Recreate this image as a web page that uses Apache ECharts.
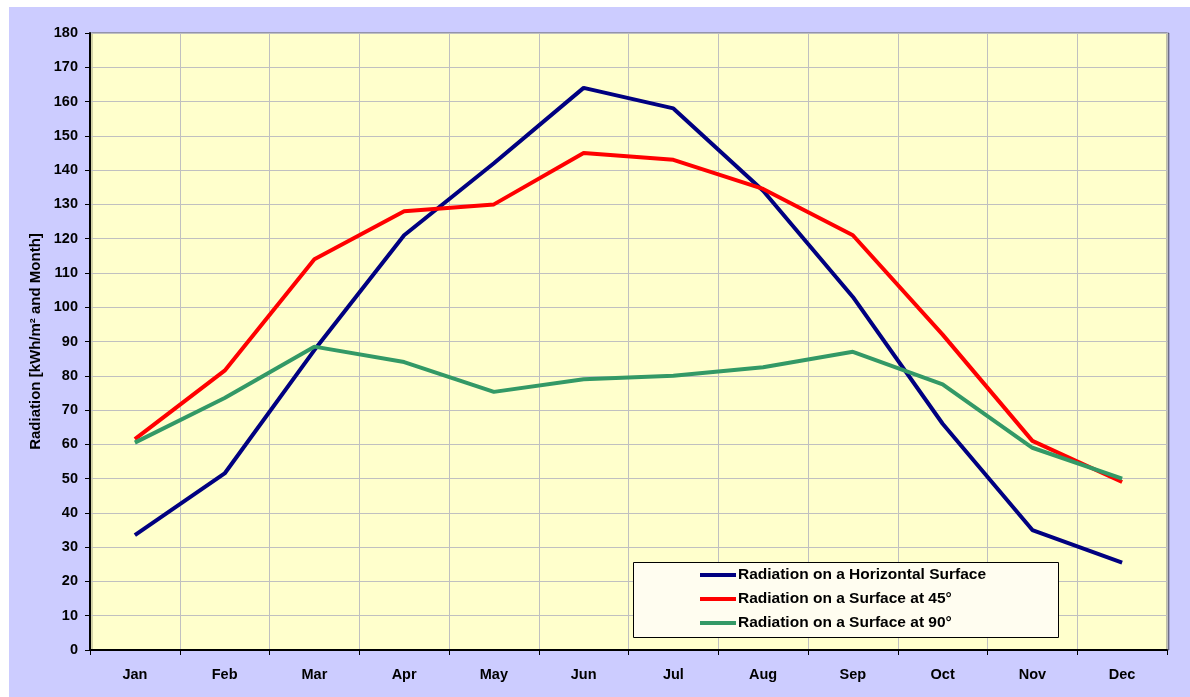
<!DOCTYPE html>
<html>
<head>
<meta charset="utf-8">
<script src="https://cdn.jsdelivr.net/npm/echarts@6/dist/echarts.min.js"></script>
<style>
  html, body { margin: 0; padding: 0; background: #fff; }
  #chart { width: 1190px; height: 697px; }
</style>
</head>
<body>
<div id="chart"></div>
<script>
// month categories
const months = ['Jan', 'Feb', 'Mar', 'Apr', 'May', 'Jun', 'Jul', 'Aug', 'Sep', 'Oct', 'Nov', 'Dec'];

// values, kWh/m² per month
const horizontal = [33.5, 51.5, 87.5, 121, 142, 164, 158, 134, 103, 66, 35, 25.5];
const tilt45 = [61.5, 81.5, 114, 128, 130, 145, 143, 134.5, 121, 92, 61, 49];
const tilt90 = [60.5, 73.5, 88.5, 84, 75.3, 79, 80, 82.5, 87, 77.5, 59, 50];

const seriesNames = [
  'Radiation on a Horizontal Surface',
  'Radiation on a Surface at 45°',
  'Radiation on a Surface at 90°'
];

const chart = echarts.init(document.getElementById('chart'));

const font = 'Liberation Sans, Arial, sans-serif';

function line(name, data, color) {
  return {
    name: name,
    type: 'line',
    data: data,
    symbol: 'none',
    lineStyle: { width: 4, color: color },
    itemStyle: { color: color },
    z: 3
  };
}

const option = {
  backgroundColor: '#fff',
  animation: false,
  textStyle: { fontFamily: font },
  graphic: [
    // lavender chart area
    { type: 'rect', left: 9, top: 7, shape: { width: 1181, height: 690 }, style: { fill: '#ccccff' }, z: -10 },
    // legend box
    { type: 'rect', left: 633, top: 562, shape: { width: 425, height: 75 },
      style: { fill: '#fffdf0', stroke: '#000', lineWidth: 1 }, z: 10 }
  ],
  grid: {
    left: 90, top: 33, width: 1077, height: 617,
    show: true,
    backgroundColor: '#ffffcc',
    borderColor: '#808080',
    borderWidth: 1,
    shadowColor: 'rgba(0,0,0,0.35)',
    shadowOffsetX: 2,
    shadowOffsetY: 0,
    containLabel: false
  },
  legend: {
    orient: 'vertical',
    left: 700,
    top: 566,
    padding: 0,
    data: seriesNames,
    icon: 'rect',
    itemWidth: 36,
    itemHeight: 4,
    itemGap: 6,
    z: 11,
    textStyle: { fontFamily: font, fontSize: 15.5, fontWeight: 'bold', color: '#000', lineHeight: 18, padding: [0, 0, 0, -3] }
  },
  xAxis: {
    type: 'category',
    data: months,
    boundaryGap: true,
    axisLine: { lineStyle: { color: '#000', width: 2 } },
    axisTick: { show: true, alignWithLabel: false, length: 5, lineStyle: { color: '#000', width: 1 } },
    axisLabel: { fontFamily: font, fontSize: 14.5, fontWeight: 'bold', color: '#000', margin: 17 },
    splitLine: { show: true, interval: 0, lineStyle: { color: '#c0c0c0', width: 1 } }
  },
  yAxis: {
    type: 'value',
    min: 0,
    max: 180,
    interval: 10,
    name: 'Radiation [kWh/m² and Month]',
    nameLocation: 'middle',
    nameGap: 46,
    nameTextStyle: { fontFamily: font, fontSize: 15, fontWeight: 'bold', color: '#000' },
    axisLine: { show: true, lineStyle: { color: '#000', width: 2 } },
    axisTick: { show: true, length: 5, lineStyle: { color: '#000', width: 1 } },
    axisLabel: { fontFamily: font, fontSize: 14.5, fontWeight: 'bold', color: '#000', margin: 12 },
    splitLine: { show: true, lineStyle: { color: '#c0c0c0', width: 1 } }
  },
  series: [
    line(seriesNames[0], horizontal, '#000080'),
    line(seriesNames[1], tilt45, '#ff0000'),
    line(seriesNames[2], tilt90, '#339966')
  ]
};

chart.setOption(option);
window.addEventListener('resize', () => chart.resize());
</script>
</body>
</html>
